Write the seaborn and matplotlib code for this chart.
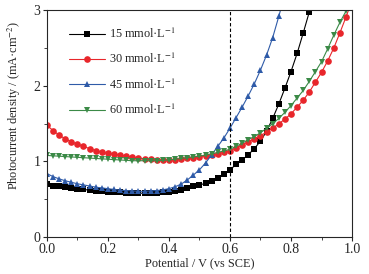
import numpy as np
import pandas as pd
import seaborn as sns
from matplotlib import pyplot as plt
from matplotlib.ticker import MultipleLocator

# potential steps of 0.02 V, one list of current density per concentration
v_step = 0.02

j_15 = [0.70, 0.68, 0.67, 0.66, 0.65, 0.64, 0.63, 0.62, 0.615, 0.61,
        0.60, 0.595, 0.59, 0.585, 0.58, 0.58, 0.58, 0.58, 0.585, 0.59,
        0.60, 0.61, 0.62, 0.645, 0.67, 0.69, 0.71, 0.745, 0.785, 0.83,
        0.89, 0.96, 1.02, 1.09, 1.17, 1.27, 1.40, 1.57, 1.76, 1.97,
        2.19, 2.43, 2.70, 2.98, 3.27]
j_30 = [1.48, 1.41, 1.35, 1.30, 1.26, 1.23, 1.20, 1.17, 1.145, 1.125,
        1.11, 1.095, 1.085, 1.07, 1.055, 1.045, 1.035, 1.03, 1.025, 1.02,
        1.02, 1.025, 1.03, 1.04, 1.05, 1.06, 1.075, 1.09, 1.105, 1.12,
        1.14, 1.18, 1.22, 1.26, 1.30, 1.34, 1.39, 1.44, 1.50, 1.56,
        1.63, 1.72, 1.81, 1.92, 2.05, 2.18, 2.33, 2.50, 2.70, 2.91, 3.13]
j_45 = [0.84, 0.80, 0.77, 0.745, 0.725, 0.705, 0.69, 0.675, 0.66, 0.65,
        0.64, 0.63, 0.62, 0.615, 0.61, 0.605, 0.605, 0.61, 0.615, 0.625,
        0.64, 0.665, 0.70, 0.755, 0.82, 0.89, 0.98, 1.09, 1.20, 1.31,
        1.44, 1.58, 1.72, 1.87, 2.03, 2.21, 2.41, 2.64, 2.92, 3.22]
j_60 = [1.08, 1.075, 1.07, 1.065, 1.06, 1.055, 1.05, 1.045, 1.04, 1.035,
        1.03, 1.025, 1.02, 1.015, 1.01, 1.01, 1.01, 1.01, 1.01, 1.015,
        1.02, 1.03, 1.04, 1.05, 1.06, 1.07, 1.085, 1.10, 1.12, 1.14,
        1.16, 1.20, 1.24, 1.29, 1.33, 1.38, 1.44, 1.50, 1.57, 1.65,
        1.74, 1.84, 1.94, 2.06, 2.19, 2.32, 2.49, 2.67, 2.84, 2.99, 3.15]

labels = ["15 mmol·L$^{-1}$", "30 mmol·L$^{-1}$",
          "45 mmol·L$^{-1}$", "60 mmol·L$^{-1}$"]
colors = ["#000000", "#e8262b", "#2f5ba8", "#3b8a47"]
markers = ["s", "o", "^", "v"]

frames = []
for lab, j in zip(labels, [j_15, j_30, j_45, j_60]):
    frames.append(pd.DataFrame({"V": np.arange(len(j)) * v_step,
                                "J": j, "conc": lab}))
df = pd.concat(frames, ignore_index=True)

sns.set_style("ticks")
plt.rcParams["font.family"] = ["Liberation Serif", "DejaVu Serif"]
plt.rcParams["mathtext.fontset"] = "stix"

fig, ax = plt.subplots(figsize=(3.69, 2.74), dpi=100)
fig.subplots_adjust(left=0.127, right=0.954, top=0.962, bottom=0.135)

sns.lineplot(data=df, x="V", y="J", hue="conc", style="conc",
             palette=colors, markers=markers, dashes=False,
             markersize=4.8, markeredgewidth=0, linewidth=0.8,
             sort=False, ax=ax)

ax.axvline(0.6, color="black", linestyle=(0, (3, 2)), linewidth=0.8)

ax.set_xlim(0, 1.0)
ax.set_ylim(0, 3)
ax.xaxis.set_major_locator(MultipleLocator(0.2))
ax.xaxis.set_minor_locator(MultipleLocator(0.1))
ax.yaxis.set_major_locator(MultipleLocator(1))
ax.yaxis.set_minor_locator(MultipleLocator(0.5))
ax.xaxis.set_major_formatter(plt.FuncFormatter(lambda v, p: f"{v:.1f}"))
ax.tick_params(which="major", direction="out", length=3, width=0.8,
               labelsize=10, pad=1.5)
ax.tick_params(which="minor", direction="out", length=2, width=0.6)
for s in ax.spines.values():
    s.set_linewidth(0.8)

ax.set_xlabel("Potential / V (vs SCE)", fontsize=8.8, labelpad=1)
ax.set_ylabel("Photocurrent density / (mA·cm$^{-2}$)", fontsize=8.8)
ax.yaxis.set_label_coords(-0.079, 0.58)

ax.legend(loc="upper left", frameon=False, fontsize=8.8,
          bbox_to_anchor=(0.055, 0.95), handlelength=3.0,
          labelspacing=0.9, handletextpad=0.35, borderaxespad=0)

fig.savefig("out.png", dpi=100)
